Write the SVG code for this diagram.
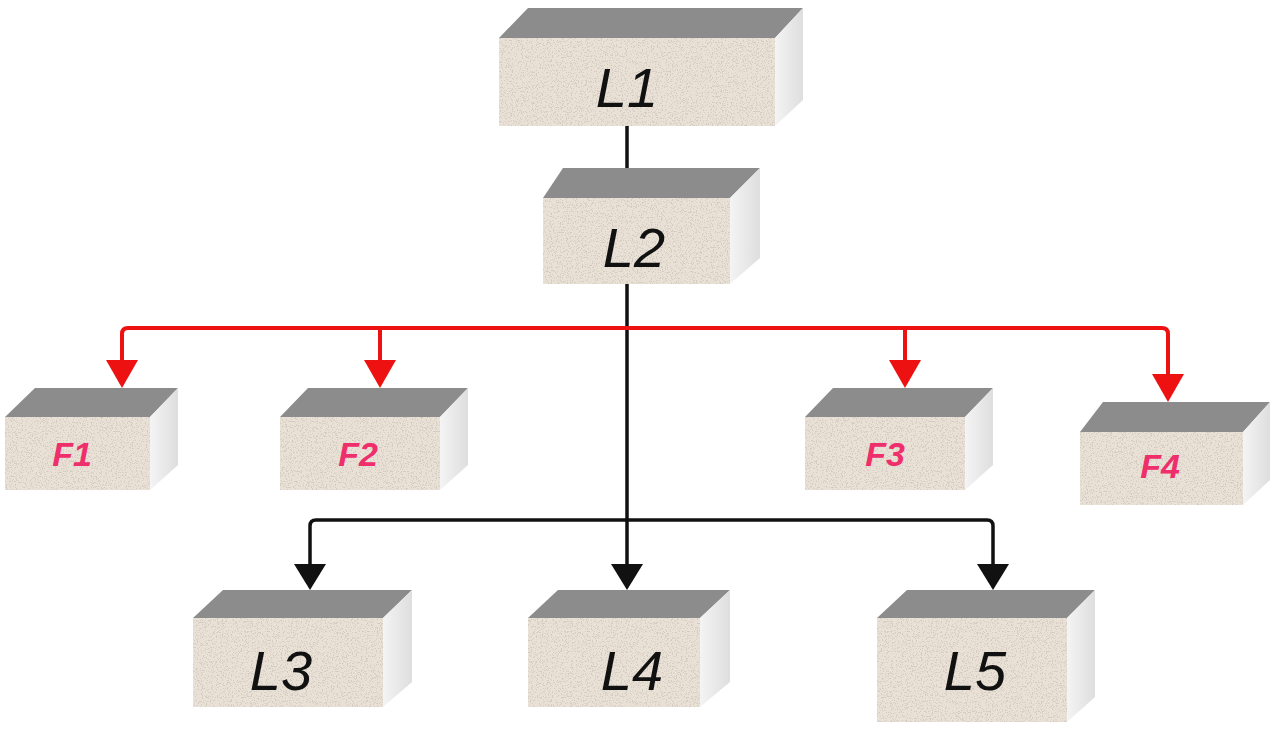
<svg xmlns="http://www.w3.org/2000/svg" width="1272" height="729" viewBox="0 0 1272 729">
<defs>
<filter id="speck" x="0" y="0" width="100%" height="100%">
<feTurbulence type="fractalNoise" baseFrequency="0.8" numOctaves="2" seed="3" result="n"/>
<feColorMatrix in="n" type="matrix" values="0 0 0 0 0.66  0 0 0 0 0.6  0 0 0 0 0.54  0 0 0 -14 6.0" result="s"/>
<feComposite in="s" in2="SourceGraphic" operator="in" result="sc"/>
<feMerge><feMergeNode in="SourceGraphic"/><feMergeNode in="sc"/></feMerge>
</filter>
<linearGradient id="side" x1="0" y1="0" x2="1" y2="0">
<stop offset="0" stop-color="#f4f4f4"/><stop offset="1" stop-color="#dedede"/>
</linearGradient>
</defs>
<style>
.top{fill:#8c8c8c}
.front{fill:#e9e1d5;filter:url(#speck)}
.side{fill:url(#side)}
.lt{font-family:"Liberation Sans",Arial,sans-serif;font-style:italic;font-size:56px;fill:#111;text-anchor:middle}
.ft{font-family:"Liberation Sans",Arial,sans-serif;font-style:italic;font-weight:bold;font-size:34px;fill:#ee2f6b;text-anchor:middle}
.red{fill:none;stroke:#ee1111;stroke-width:4;stroke-linejoin:round}
.blk{fill:none;stroke:#111;stroke-width:3.5;stroke-linejoin:round}
.rh{fill:#ee1111}
.bh{fill:#111}
</style>
<rect width="1272" height="729" fill="#ffffff"/>
<g id="connectors">
<path class="blk" d="M627 126 V168"/>
<path class="blk" d="M627 283 V566"/>
<path class="blk" d="M310 566 V526 Q310 520 316 520 H987 Q993 520 993 526 V566"/>
<path class="bh" d="M611 564 H643 L627 590 Z"/>
<path class="bh" d="M294 564 H326 L310 590 Z"/>
<path class="bh" d="M977 564 H1009 L993 590 Z"/>
<path class="red" d="M122 362 V334 Q122 328 128 328 H1162 Q1168 328 1168 334 V376"/>
<path class="red" d="M380 328 V362"/>
<path class="red" d="M905 328 V362"/>
<path class="rh" d="M106 360 H138 L122 388 Z"/>
<path class="rh" d="M364 360 H396 L380 388 Z"/>
<path class="rh" d="M889 360 H921 L905 388 Z"/>
<path class="rh" d="M1152 374 H1184 L1168 402 Z"/>
</g>
<g id="L1">
<polygon class="top" points="528,8 803,8 775,38 499,38"/>
<polygon class="side" points="775,38 803,8 803,100 775,126"/>
<rect class="front" x="499" y="38" width="276" height="88"/>
<text class="lt" x="627" y="107">L1</text>
</g>
<g id="L2">
<polygon class="top" points="563,168 760,168 730,198 543,198"/>
<polygon class="side" points="730,198 760,168 760,258 730,284"/>
<rect class="front" x="543" y="198" width="187" height="86"/>
<text class="lt" x="634" y="267">L2</text>
</g>
<g id="F1">
<polygon class="top" points="35,388 178,388 150,417 5,417"/>
<polygon class="side" points="150,417 178,388 178,465 150,490"/>
<rect class="front" x="5" y="417" width="145" height="73"/>
<text class="ft" x="72" y="466">F1</text>
</g>
<g id="F2">
<polygon class="top" points="308,388 468,388 440,417 280,417"/>
<polygon class="side" points="440,417 468,388 468,465 440,490"/>
<rect class="front" x="280" y="417" width="160" height="73"/>
<text class="ft" x="358" y="466">F2</text>
</g>
<g id="F3">
<polygon class="top" points="833,388 993,388 965,417 805,417"/>
<polygon class="side" points="965,417 993,388 993,465 965,490"/>
<rect class="front" x="805" y="417" width="160" height="73"/>
<text class="ft" x="885" y="466">F3</text>
</g>
<g id="F4">
<polygon class="top" points="1103,402 1270,402 1243,432 1080,432"/>
<polygon class="side" points="1243,432 1270,402 1270,480 1243,505"/>
<rect class="front" x="1080" y="432" width="163" height="73"/>
<text class="ft" x="1160" y="478">F4</text>
</g>
<g id="L3">
<polygon class="top" points="223,590 412,590 383,618 193,618"/>
<polygon class="side" points="383,618 412,590 412,682 383,707"/>
<rect class="front" x="193" y="618" width="190" height="89"/>
<text class="lt" x="281" y="690">L3</text>
</g>
<g id="L4">
<polygon class="top" points="558,590 730,590 700,618 528,618"/>
<polygon class="side" points="700,618 730,590 730,682 700,707"/>
<rect class="front" x="528" y="618" width="172" height="89"/>
<text class="lt" x="632" y="690">L4</text>
</g>
<g id="L5">
<polygon class="top" points="907,590 1095,590 1067,618 877,618"/>
<polygon class="side" points="1067,618 1095,590 1095,697 1067,722"/>
<rect class="front" x="877" y="618" width="190" height="104"/>
<text class="lt" x="975" y="690">L5</text>
</g>
</svg>
